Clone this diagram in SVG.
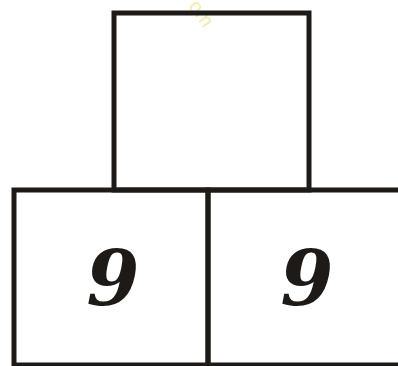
<svg xmlns="http://www.w3.org/2000/svg" width="398" height="366" viewBox="0 0 398 366">
<style>
.box{fill:none;stroke:#1e1a17;stroke-width:5;stroke-linecap:square}
.num{font-family:"DejaVu Serif",serif;font-weight:bold;font-style:italic;font-size:76px;fill:#1e1a17;text-anchor:middle}
.wm{font-family:"Liberation Sans",sans-serif;font-size:20px;fill:#f2eca8}
</style>
<rect width="398" height="366" fill="#fff"/>
<text class="wm" transform="translate(188,6) rotate(55)">om</text>
<g id="top">
<rect class="box" x="114" y="13" width="195" height="177"/>
</g>
<g id="left">
<rect class="box" x="14" y="190" width="194" height="175"/>
<text class="num" x="113" y="305">9</text>
</g>
<g id="right">
<rect class="box" x="208" y="190" width="194" height="175"/>
<text class="num" x="307" y="305">9</text>
</g>
<g id="connectors"></g>
</svg>
